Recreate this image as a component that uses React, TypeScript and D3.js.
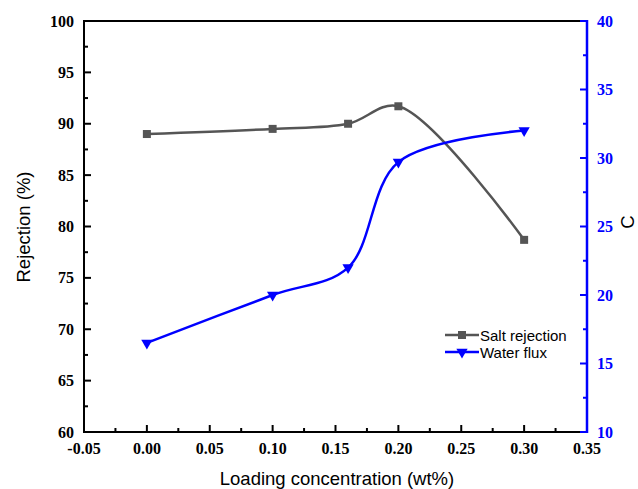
import React from "react";
import * as d3 from "d3";

const loading = [0, 0.1, 0.16, 0.2, 0.3];
const saltRejection = [89.0, 89.5, 90.0, 91.7, 78.7];
const waterFlux = [16.5, 20.0, 22.0, 29.7, 32.0];
const xTicks = [-0.05, 0, 0.05, 0.1, 0.15, 0.2, 0.25, 0.3, 0.35];
const leftTicks = [60, 65, 70, 75, 80, 85, 90, 95, 100];
const rightTicks = [10, 15, 20, 25, 30, 35, 40];

const W = 638, H = 489;
const m = { left: 84, right: 587, top: 21, bottom: 432 };

export default function App() {
  const x = d3.scaleLinear().domain([-0.05, 0.35]).range([m.left, m.right]);
  const yL = d3.scaleLinear().domain([60, 100]).range([m.bottom, m.top]);
  const yR = d3.scaleLinear().domain([10, 40]).range([m.bottom, m.top]);

  const curve = d3.curveCatmullRom.alpha(0.5);
  const lineL = d3.line<number>().x((_, i) => x(loading[i])).y(d => yL(d)).curve(curve);
  const lineR = d3.line<number>().x((_, i) => x(loading[i])).y(d => yR(d)).curve(curve);

  const gray = "#555555";
  const blue = "#0000FF";
  const tickFont = { fontFamily: "'Liberation Serif', 'Times New Roman', serif", fontWeight: 700, fontSize: 16 };
  const titleFont = { fontFamily: "'Liberation Sans', Arial, sans-serif", fontSize: 18.5 };
  const legendFont = { fontFamily: "'Liberation Sans', Arial, sans-serif", fontSize: 15 };

  const xMinor = d3.range(-0.025, 0.35, 0.05);
  const lMinor = d3.range(62.5, 100, 5);
  const rMinor = d3.range(12.5, 40, 5);
  const tri = d3.symbol().type(d3.symbolTriangle).size(55)();

  return (
    <svg width={W} height={H} style={{ position: "absolute", left: 0, top: 0, background: "#fff" }}>
      {/* frame */}
      <line x1={m.left} x2={m.right} y1={m.top} y2={m.top} stroke="#000" strokeWidth={2} />
      <line x1={m.left} x2={m.right} y1={m.bottom} y2={m.bottom} stroke="#000" strokeWidth={2} />
      <line x1={m.left} x2={m.left} y1={m.top - 1} y2={m.bottom + 1} stroke="#000" strokeWidth={2} />

      {/* x ticks */}
      {xTicks.map(t => (
        <g key={"x" + t}>
          <line x1={x(t)} x2={x(t)} y1={m.bottom} y2={m.bottom - 7} stroke="#000" strokeWidth={2} />
          <text x={x(t)} y={m.bottom + 22} textAnchor="middle" {...tickFont}>{t.toFixed(2)}</text>
        </g>
      ))}
      {xMinor.map(t => (
        <line key={"xm" + t} x1={x(t)} x2={x(t)} y1={m.bottom} y2={m.bottom - 4} stroke="#000" strokeWidth={2} />
      ))}

      {/* left ticks */}
      {leftTicks.map(t => (
        <g key={"l" + t}>
          <line x1={m.left} x2={m.left + 7} y1={yL(t)} y2={yL(t)} stroke="#000" strokeWidth={2} />
          <text x={m.left - 10} y={yL(t) + 5.5} textAnchor="end" {...tickFont}>{t}</text>
        </g>
      ))}
      {lMinor.map(t => (
        <line key={"lm" + t} x1={m.left} x2={m.left + 4} y1={yL(t)} y2={yL(t)} stroke="#000" strokeWidth={2} />
      ))}

      {/* right axis */}
      <line x1={m.right} x2={m.right} y1={m.top - 1} y2={m.bottom + 1} stroke={blue} strokeWidth={2.5} />
      {rightTicks.map(t => (
        <g key={"r" + t}>
          <line x1={m.right} x2={m.right - 7} y1={yR(t)} y2={yR(t)} stroke={blue} strokeWidth={2} />
          <text x={m.right + 10} y={yR(t) + 5.5} textAnchor="start" fill={blue} {...tickFont}>{t}</text>
        </g>
      ))}
      {rMinor.map(t => (
        <line key={"rm" + t} x1={m.right} x2={m.right - 4} y1={yR(t)} y2={yR(t)} stroke={blue} strokeWidth={2} />
      ))}

      {/* titles */}
      <text x={337} y={485} textAnchor="middle" {...titleFont}>Loading concentration (wt%)</text>
      <text transform={`translate(30, 227) rotate(-90)`} textAnchor="middle" {...titleFont}>Rejection (%)</text>
      <text transform={`translate(634, 222) rotate(-90)`} textAnchor="middle" {...titleFont}>C</text>

      {/* series */}
      <path d={lineL(saltRejection) || ""} fill="none" stroke={gray} strokeWidth={2.5} />
      <path d={lineR(waterFlux) || ""} fill="none" stroke={blue} strokeWidth={2.5} />
      {loading.map((v, i) => (
        <rect key={"s" + i} x={x(v) - 4} y={yL(saltRejection[i]) - 4} width={8} height={8} fill={gray} />
      ))}
      {loading.map((v, i) => (
        <path key={"w" + i} d={tri || ""} transform={`translate(${x(v)}, ${yR(waterFlux[i])}) rotate(180)`} fill={blue} />
      ))}

      {/* legend */}
      <g>
        <line x1={445} x2={479} y1={335} y2={335} stroke={gray} strokeWidth={2.5} />
        <rect x={458} y={331} width={8} height={8} fill={gray} />
        <text x={480} y={341} {...legendFont}>Salt rejection</text>
        <line x1={445} x2={479} y1={352} y2={352} stroke={blue} strokeWidth={2.5} />
        <path d={tri || ""} transform={`translate(462, 352) rotate(180)`} fill={blue} />
        <text x={480} y={358} {...legendFont}>Water flux</text>
      </g>
    </svg>
  );
}
